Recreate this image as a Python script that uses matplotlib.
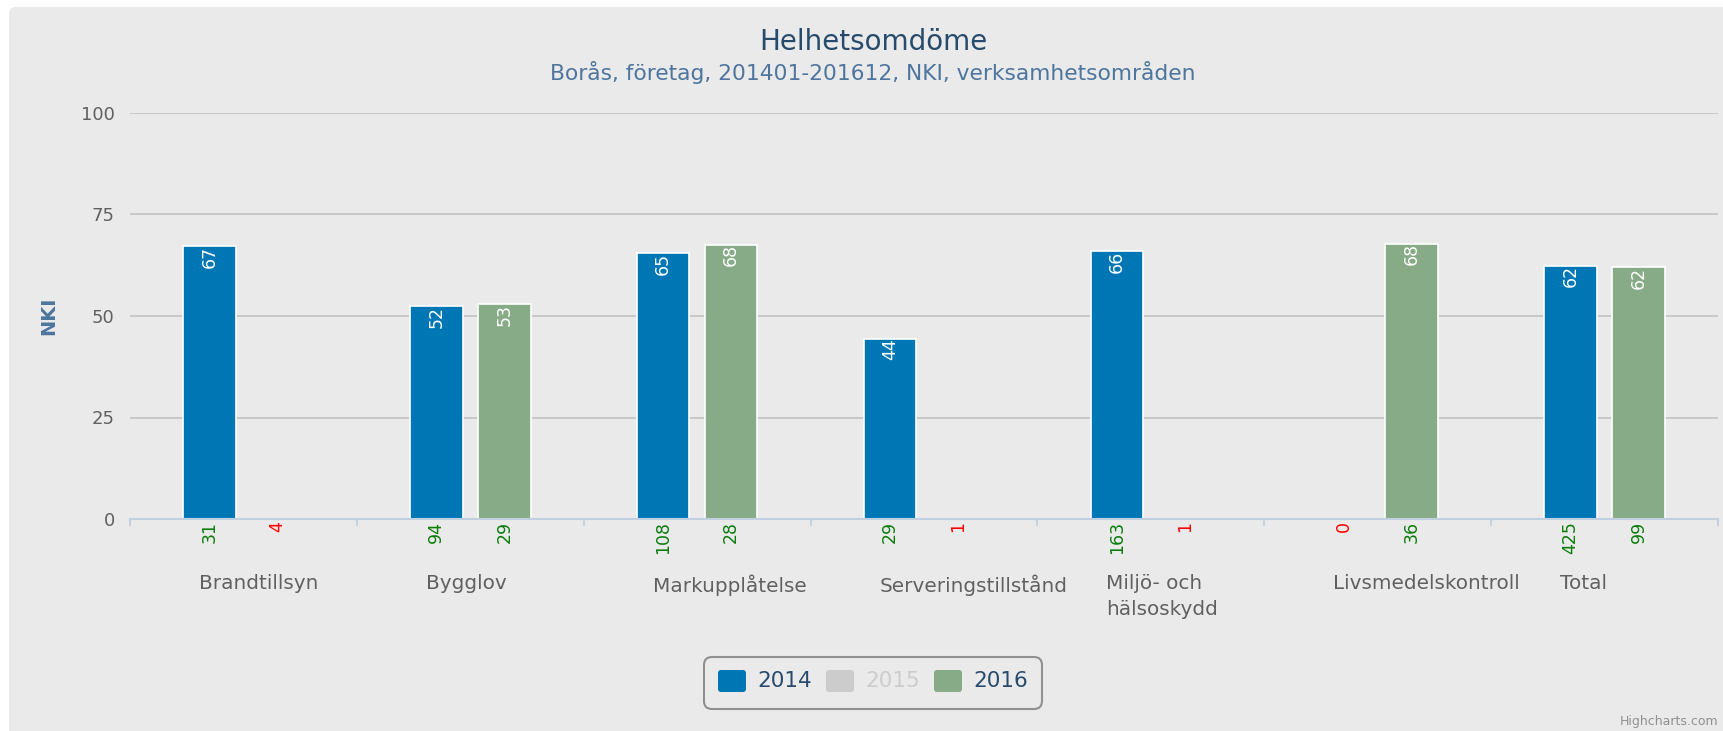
import numpy as np
import matplotlib
matplotlib.use('Agg')
import matplotlib.pyplot as plt
from matplotlib.patches import FancyBboxPatch
from matplotlib.transforms import IdentityTransform, blended_transform_factory

# data
categories = ['Brandtillsyn', 'Bygglov', 'Markupplåtelse', 'Serveringstillstånd',
              'Miljö- och\nhälsoskydd', 'Livsmedelskontroll', 'Total']
nki_2014 = [67.2, 52.4, 65.4, 44.4, 65.9, np.nan, 62.3]
nki_2016 = [np.nan, 52.9, 67.6, np.nan, np.nan, 67.8, 62.0]
count_2014 = [31, 94, 108, 29, 163, 0, 425]
count_2016 = [4, 29, 28, 1, 1, 36, 99]
series_names = ['2014', '2015', '2016']
series_visible = [True, False, True]
yticks = [0, 25, 50, 75, 100]

blue = '#0077b5'
green = '#87ab87'
hidden = '#cccccc'
series_colors = [blue, hidden, green]

plt.rcParams['font.family'] = 'DejaVu Sans'
fig = plt.figure(figsize=(17.23, 7.31), dpi=100)
fig.patch.set_facecolor('white')

# chart background with rounded corner
bg = FancyBboxPatch((9, -20), 1760, 744, boxstyle='round,pad=0,rounding_size=7',
                    facecolor='#eaeaea', edgecolor='none', transform=IdentityTransform(), zorder=-1)
fig.add_artist(bg)

W, H = 1723, 731
ax = fig.add_axes([130 / W, 1 - 519 / H, (1718 - 130) / W, (519 - 113) / H])
ax.set_facecolor('none')

x = np.arange(len(categories))
off = 0.15
bw = 0.232
ax.bar(x - off, nki_2014, bw, color=blue, edgecolor='white', linewidth=1.2, zorder=3)
ax.bar(x + off, nki_2016, bw, color=green, edgecolor='white', linewidth=1.2, zorder=3)

for xs, vals, counts in [(x - off, nki_2014, count_2014), (x + off, nki_2016, count_2016)]:
    for xi, v, n in zip(xs, vals, counts):
        if not np.isnan(v):
            ax.annotate(str(int(round(v))), (xi, v), xytext=(0, 0.5), textcoords='offset points',
                        rotation=90, ha='center', va='top', color='white', fontsize=12.5, zorder=4)
        ax.annotate(str(n), (xi, 0), xytext=(0, -1.5), textcoords='offset points',
                    rotation=90, ha='center', va='top', fontsize=12.5,
                    color='red' if n < 10 else '#0a7d0a')

ax.set_xlim(-0.5, len(categories) - 0.5)
ax.set_ylim(0, 100)
ax.set_yticks(yticks)
ax.set_xticks(np.arange(len(categories) + 1) - 0.5)
ax.set_xticklabels([])
ax.tick_params(axis='x', length=5, width=1.3, color='#c0d0e0')
ax.tick_params(axis='y', length=0, pad=11, labelsize=13, labelcolor='#606060')
for s in ['top', 'right', 'left']:
    ax.spines[s].set_visible(False)
ax.spines['bottom'].set_color('#c0d0e0')
ax.spines['bottom'].set_linewidth(1.5)
ax.spines['bottom'].set_zorder(5)
ax.yaxis.grid(True, color='#c8c8c8', linewidth=1.4)
ax.set_axisbelow(True)

# category labels, left aligned inside each slot
tr = blended_transform_factory(ax.transData, fig.transFigure)
for i, c in enumerate(categories):
    ax.text(i - 0.5 + 0.304, 1 - 574 / H, c, transform=tr, ha='left', va='top',
            fontsize=14.4, color='#606060', linespacing=1.45)

fig.text(49 / W, 1 - 316 / H, 'NKI', rotation=90, ha='center', va='center',
         fontsize=14, fontweight='bold', color='#4d759e')
fig.text(873 / W, 1 - 42 / H, 'Helhetsomdöme', ha='center', va='center', fontsize=20, color='#274b6d')
fig.text(873 / W, 1 - 72 / H, 'Borås, företag, 201401-201612, NKI, verksamhetsområden',
         ha='center', va='center', fontsize=15.7, color='#4d759e')

# legend
lg = FancyBboxPatch((704, H - 709), 338, 52, boxstyle='round,pad=0,rounding_size=8',
                    facecolor='none', edgecolor='#909090', linewidth=1.5, transform=IdentityTransform())
fig.add_artist(lg)
for i, (name, col, vis) in enumerate(zip(series_names, series_colors, series_visible)):
    x0 = 718 + i * 108
    sym = FancyBboxPatch((x0, H - 692), 28, 22, boxstyle='round,pad=0,rounding_size=3',
                         facecolor=col, edgecolor='none', transform=IdentityTransform())
    fig.add_artist(sym)
    fig.text(x0 + 39, H - 681, name, transform=IdentityTransform(), ha='left', va='center',
             fontsize=15.5, color='#274b6d' if vis else hidden)

fig.text(1718 / W, 1 - 722 / H, 'Highcharts.com', ha='right', va='center', fontsize=9, color='#909090')

plt.savefig('out.png', dpi=100)
